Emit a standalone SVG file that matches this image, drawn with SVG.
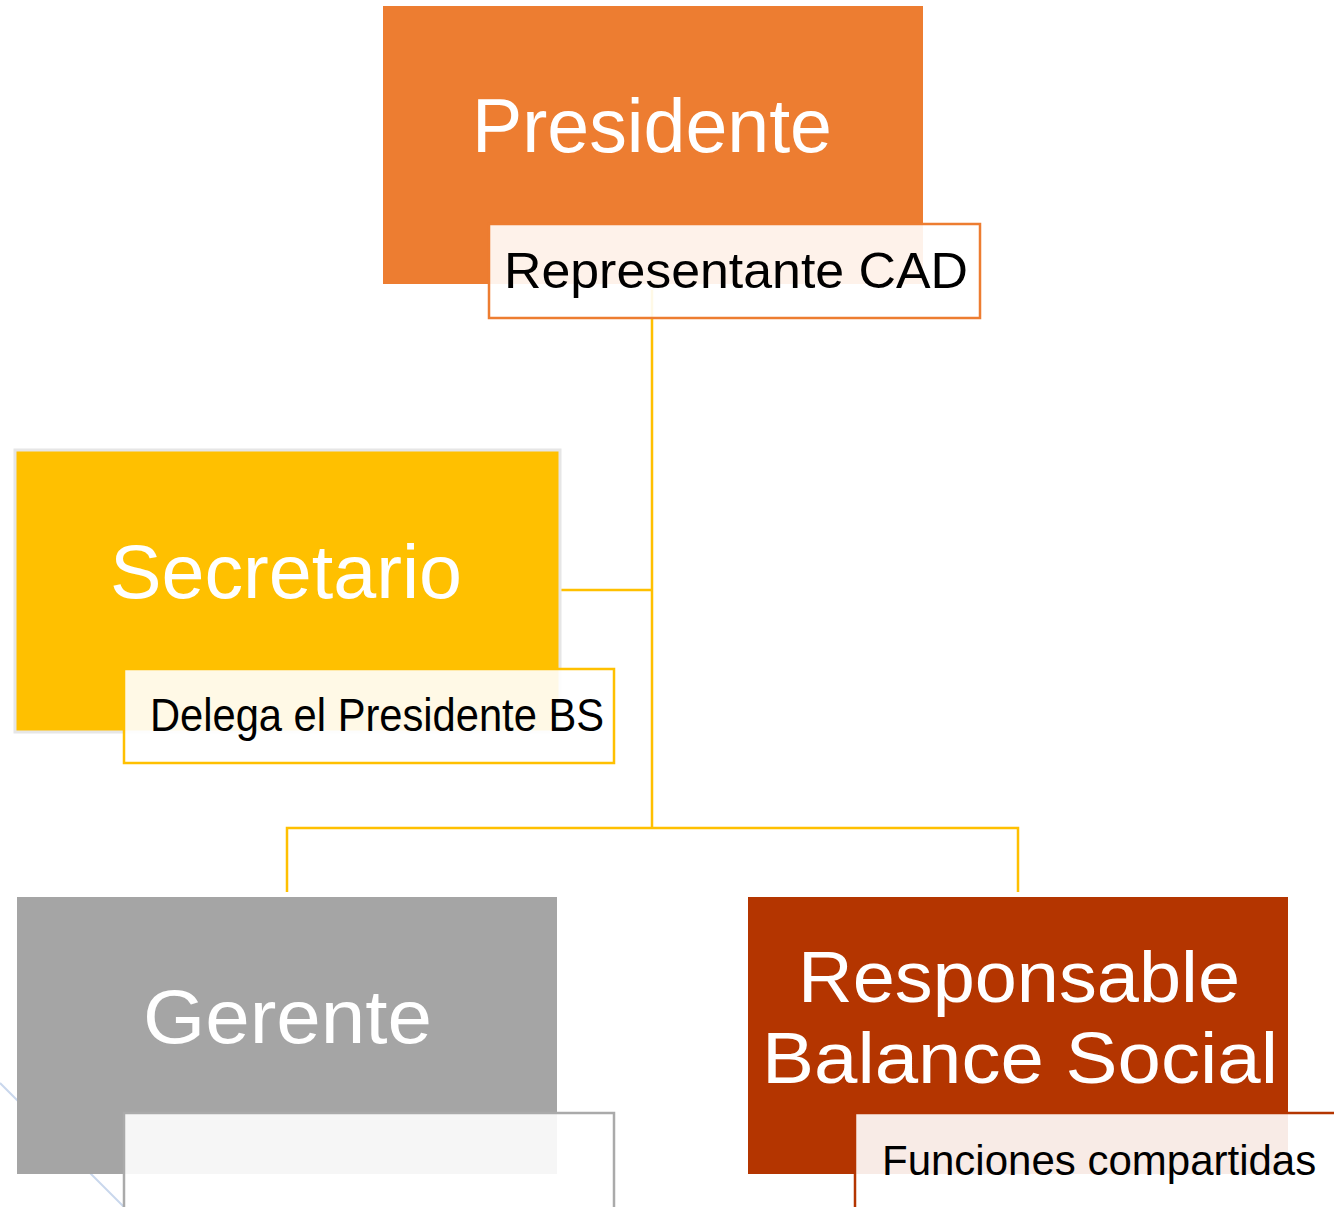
<svg xmlns="http://www.w3.org/2000/svg" width="1334" height="1207" viewBox="0 0 1334 1207">
<style>
.main{font-family:"Liberation Sans",Arial,sans-serif;fill:#ffffff;text-anchor:start}
.sub{font-family:"Liberation Sans",Arial,sans-serif;fill:#000000;text-anchor:start}
.tb{fill:#ffffff;fill-opacity:0.9;stroke-width:2.5}
.conn{fill:none;stroke:#FFC000;stroke-width:2.5}
</style>
<rect x="0" y="0" width="1334" height="1207" fill="#ffffff"/>
<line x1="0" y1="1083" x2="124" y2="1207" stroke="#C9D7EC" stroke-width="2"/>
<g id="connectors">
<path class="conn" d="M652 290 V828"/>
<path class="conn" d="M561 590 H652"/>
<path class="conn" d="M287 892 V828 H1018 V892"/>
</g>
<g id="presidente">
<rect x="383" y="6" width="540" height="278" fill="#ED7D31"/>
<text class="main" x="472" y="152" font-size="76" textLength="360" lengthAdjust="spacingAndGlyphs">Presidente</text>
<rect class="tb" x="489" y="224" width="491" height="94" stroke="#ED7D31"/>
<text class="sub" x="504" y="288" font-size="50" textLength="464" lengthAdjust="spacingAndGlyphs">Representante CAD</text>
</g>
<g id="secretario">
<rect x="15" y="450" width="545" height="282" fill="#FFC000" stroke="#E6E6E6" stroke-width="3"/>
<text class="main" x="110" y="598" font-size="76" textLength="352" lengthAdjust="spacingAndGlyphs">Secretario</text>
<rect class="tb" x="124" y="669" width="490" height="94" stroke="#FFC000"/>
<text class="sub" x="150" y="731" font-size="46" textLength="454" lengthAdjust="spacingAndGlyphs">Delega el Presidente BS</text>
</g>
<g id="gerente">
<rect x="17" y="897" width="540" height="277" fill="#A5A5A5"/>
<text class="main" x="143" y="1043" font-size="76" textLength="289" lengthAdjust="spacingAndGlyphs">Gerente</text>
<rect class="tb" x="124" y="1113" width="490" height="100" stroke="#AAAAAA"/>
</g>
<g id="responsable">
<rect x="748" y="897" width="540" height="277" fill="#B43500"/>
<text class="main" x="798" y="1002" font-size="73" textLength="442" lengthAdjust="spacingAndGlyphs">Responsable</text>
<text class="main" x="762" y="1083" font-size="73" textLength="516" lengthAdjust="spacingAndGlyphs">Balance Social</text>
<rect class="tb" x="855" y="1113" width="490" height="100" stroke="#B43500"/>
<text class="sub" x="882" y="1175" font-size="42">Funciones compartidas</text>
</g>
</svg>
